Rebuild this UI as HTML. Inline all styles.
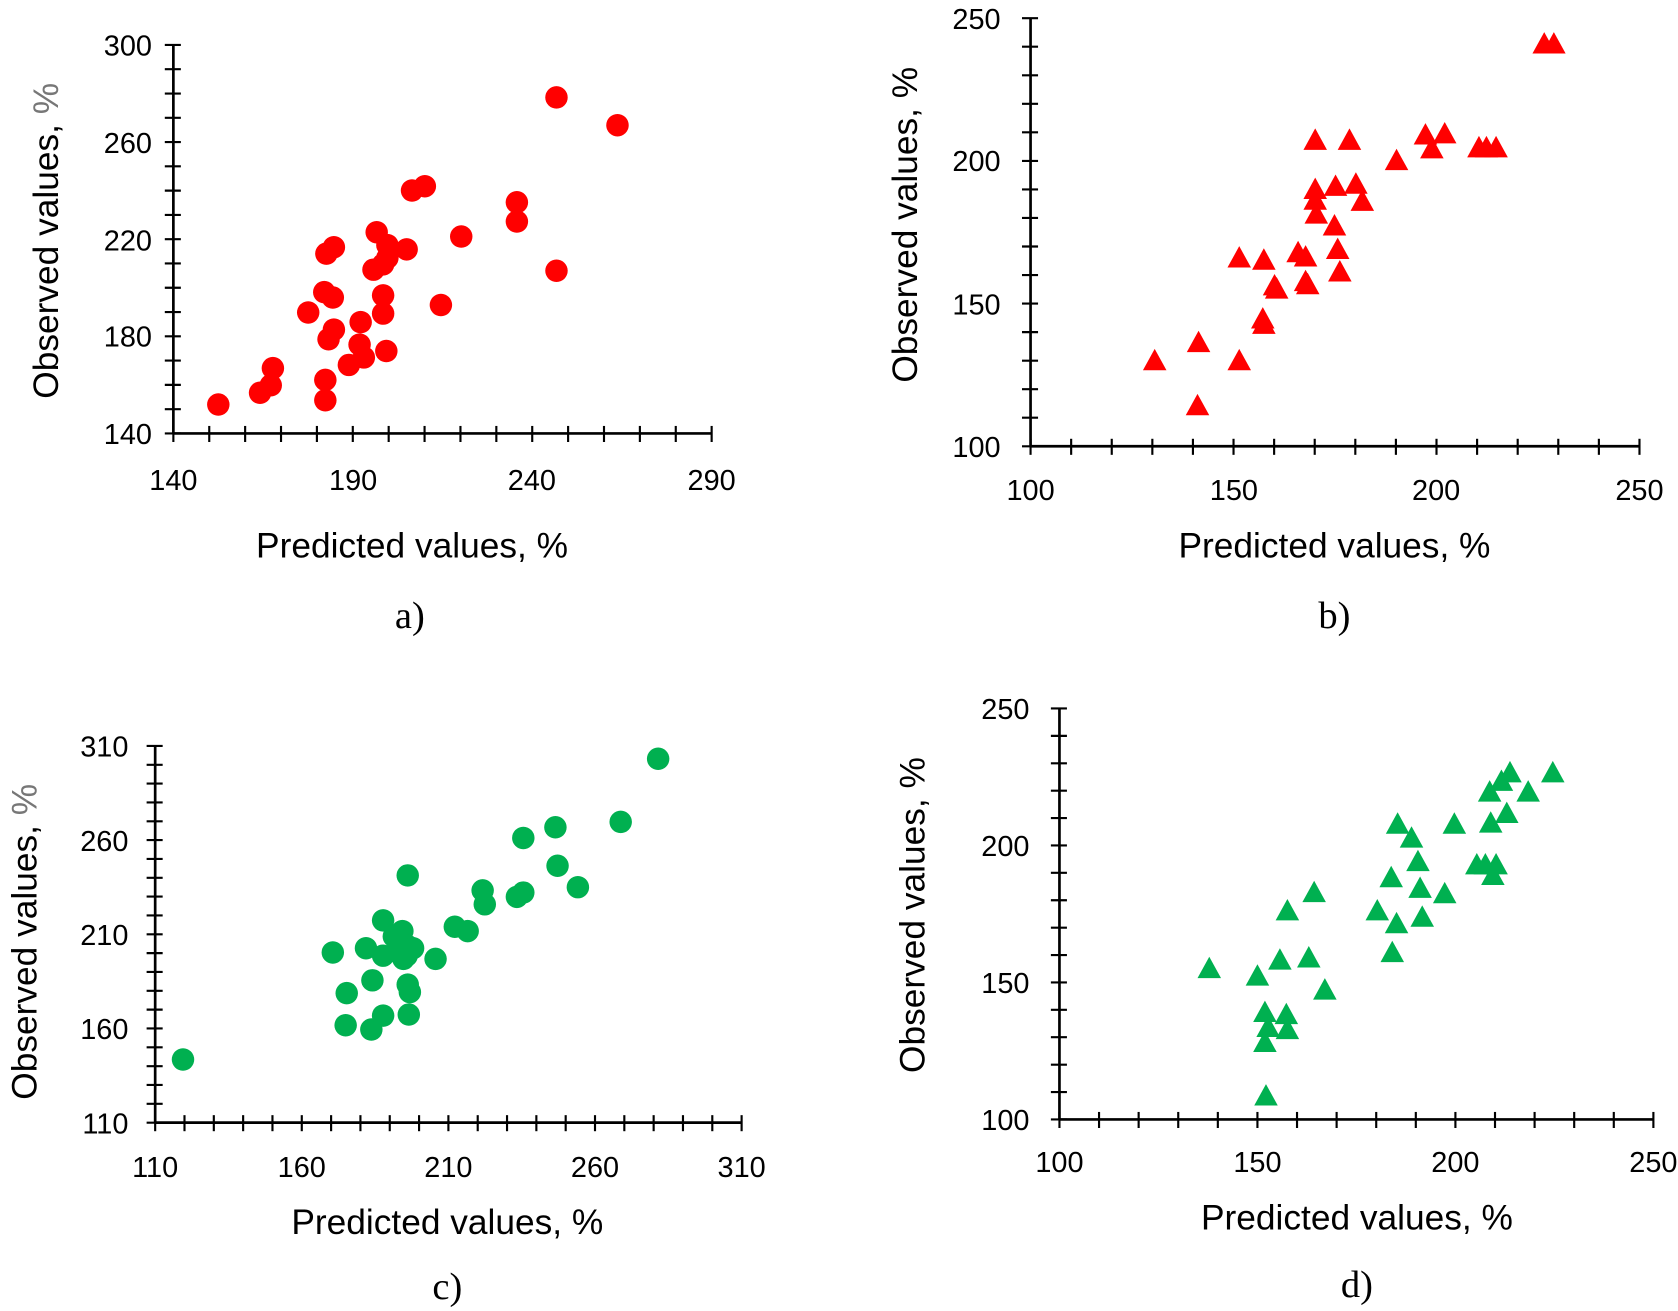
<!DOCTYPE html>
<html><head><meta charset="utf-8"><style>
html,body{margin:0;padding:0;background:#fff}
svg{display:block}
text{font-family:"Liberation Sans",sans-serif;fill:#000}
.t{font-size:27px}
.ti{font-size:33px}
.cap{font-family:"Liberation Serif",serif;font-size:36px}
</style></head><body>
<svg id="s" width="1678" height="1311" viewBox="0 0 1568 1225" preserveAspectRatio="none" xmlns="http://www.w3.org/2000/svg">
<g id="g"></g>
<!-- a -->
<g class="t" text-anchor="end">
<text x="142" y="52">300</text><text x="142" y="143">260</text><text x="142" y="234">220</text><text x="142" y="324">180</text><text x="142" y="415">140</text>
</g>
<g class="t" text-anchor="middle">
<text x="162" y="458">140</text><text x="330" y="458">190</text><text x="497" y="458">240</text><text x="665" y="458">290</text>
</g>
<text class="ti" x="385" y="521" text-anchor="middle">Predicted values, %</text>
<text class="ti" transform="translate(54,225) rotate(-90)" text-anchor="middle">Observed values, <tspan fill="#777">%</tspan></text>
<text class="cap" x="383" y="587" text-anchor="middle">a)</text>
<!-- b -->
<g class="t" text-anchor="end">
<text x="935" y="27">250</text><text x="935" y="160">200</text><text x="935" y="294">150</text><text x="935" y="427">100</text>
</g>
<g class="t" text-anchor="middle">
<text x="963" y="467">100</text><text x="1153" y="467">150</text><text x="1342" y="467">200</text><text x="1532" y="467">250</text>
</g>
<text class="ti" x="1247" y="521" text-anchor="middle">Predicted values, %</text>
<text class="ti" transform="translate(857,210) rotate(-90)" text-anchor="middle">Observed values, %</text>
<text class="cap" x="1247" y="587" text-anchor="middle">b)</text>
<!-- c -->
<g class="t" text-anchor="end">
<text x="120" y="707">310</text><text x="120" y="795">260</text><text x="120" y="883">210</text><text x="120" y="971">160</text><text x="120" y="1059">110</text>
</g>
<g class="t" text-anchor="middle">
<text x="145" y="1100">110</text><text x="282" y="1100">160</text><text x="419" y="1100">210</text><text x="556" y="1100">260</text><text x="693" y="1100">310</text>
</g>
<text class="ti" x="418" y="1153" text-anchor="middle">Predicted values, %</text>
<text class="ti" transform="translate(34,880) rotate(-90)" text-anchor="middle">Observed values, <tspan fill="#777">%</tspan></text>
<text class="cap" x="418" y="1214" text-anchor="middle">c)</text>
<!-- d -->
<g class="t" text-anchor="end">
<text x="962" y="672">250</text><text x="962" y="800">200</text><text x="962" y="928">150</text><text x="962" y="1056">100</text>
</g>
<g class="t" text-anchor="middle">
<text x="990" y="1095">100</text><text x="1175" y="1095">150</text><text x="1360" y="1095">200</text><text x="1545" y="1095">250</text>
</g>
<text class="ti" x="1268" y="1149" text-anchor="middle">Predicted values, %</text>
<text class="ti" transform="translate(864,855) rotate(-90)" text-anchor="middle">Observed values, %</text>
<text class="cap" x="1268" y="1212" text-anchor="middle">d)</text>
</svg>
<script>
var g=document.getElementById('g'),h='';
function axes(x0,x1,y0,y1,nx,ny){
 h+='<line x1="'+x0+'" y1="'+y1+'" x2="'+x0+'" y2="'+y0+'" stroke="#000" stroke-width="2.5"/>';
 h+='<line x1="'+x0+'" y1="'+y0+'" x2="'+x1+'" y2="'+y0+'" stroke="#000" stroke-width="2.5"/>';
 for(var i=0;i<=nx;i++){var x=x0+(x1-x0)*i/nx;h+='<line x1="'+x+'" y1="'+(y0-7)+'" x2="'+x+'" y2="'+(y0+8)+'" stroke="#000" stroke-width="2"/>';}
 for(var j=0;j<=ny;j++){var y=y0+(y1-y0)*j/ny;h+='<line x1="'+(x0-8)+'" y1="'+y+'" x2="'+(x0+7)+'" y2="'+y+'" stroke="#000" stroke-width="2"/>';}
}
function circ(p,c){p.forEach(function(q){h+='<ellipse cx="'+q[0]+'" cy="'+q[1]+'" rx="10.5" ry="10.5" fill="'+c+'"/>';});}
function tri(p,c){p.forEach(function(q){var x=q[0],y=q[1];h+='<polygon points="'+(x-11)+','+(y+9)+' '+(x+11)+','+(y+9)+' '+x+','+(y-11)+'" fill="'+c+'"/>';});}
axes(162,665,405,42,15,16);
axes(963,1532,417,17,15,15);
axes(145,693,1049,697,20,20);
axes(990,1545,1046,662,15,15);
var R='#ff0000',G='#00b050';
circ([[204,378],[243,367],[253,360],[255,344],[304,355],[304,374],[305,237],[312,231],[303,273],[311,278],[288,292],[307,317],[312,308],[337,301],[336,322],[340,334],[326,341],[352,217],[349,252],[362,229],[358,247],[362,241],[358,276],[358,293],[361,328],[380,233],[385,178],[397,174],[431,221],[412,285],[483,189],[483,207],[520,91],[520,253],[577,117]],R);
tri([[1079,337],[1120,320],[1119,379],[1158,241],[1158,337],[1181,243],[1181,303],[1180,298],[1191,267],[1193,270],[1213,236],[1220,240],[1222,266],[1220,263],[1229,131],[1229,177],[1229,187],[1230,200],[1248,174],[1247,211],[1250,233],[1252,254],[1261,131],[1267,172],[1273,188],[1305,150],[1332,126],[1338,139],[1350,125],[1382,138],[1389,138],[1398,138],[1443,41],[1452,41]],R);
circ([[171,990],[311,890],[324,928],[323,958],[342,886],[348,916],[347,962],[358,860],[358,893],[358,949],[376,870],[377,896],[378,883],[381,818],[381,884],[380,893],[381,920],[383,927],[382,948],[386,886],[372,890],[368,875],[407,896],[425,866],[437,870],[453,845],[451,832],[483,838],[489,834],[489,783],[519,773],[521,809],[540,829],[580,768],[615,709]],G);
tri([[1130,905],[1175,912],[1182,946],[1182,974],[1183,1024],[1185,960],[1196,897],[1202,948],[1203,962],[1203,851],[1223,895],[1228,834],[1238,925],[1287,851],[1301,890],[1300,820],[1306,770],[1305,863],[1319,783],[1325,805],[1327,830],[1329,857],[1350,835],[1359,770],[1380,808],[1388,808],[1392,740],[1393,769],[1395,818],[1398,808],[1403,730],[1408,760],[1411,722],[1428,740],[1451,722]],G);
g.innerHTML=h;
</script>
</body></html>
